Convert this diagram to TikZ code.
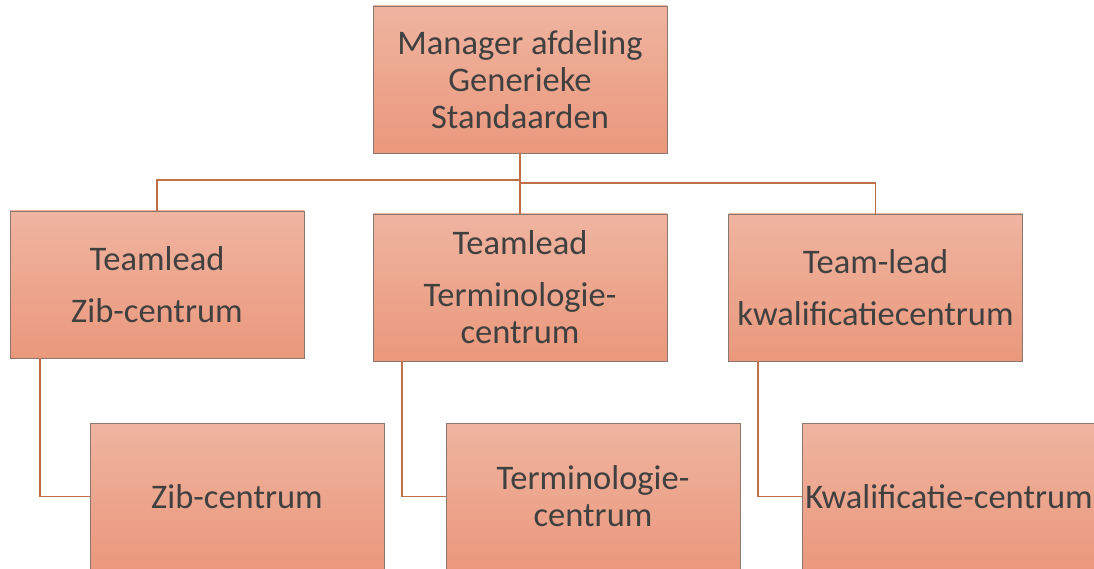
\documentclass[tikz,border=0pt]{standalone}
\usepackage{fontspec}
\setmainfont{Carlito}
\usepackage{xcolor}
\definecolor{boxtop}{RGB}{239, 180, 160}
\definecolor{boxbot}{RGB}{234, 152, 124}
\definecolor{boxline}{RGB}{138, 120, 112}
\definecolor{linkc}{RGB}{192, 112, 72}
\definecolor{txt}{RGB}{64, 64, 64}
\tikzset{
  unit/.style={draw=boxline,top color=boxtop,bottom color=boxbot,minimum width=294pt,minimum height=147pt,
    inner sep=0pt,align=center,text=txt,font=\fontsize{34.5}{37}\selectfont},
  link/.style={draw=linkc,line width=1.3pt},
}

\begin{document}
\begin{tikzpicture}[x=1pt,y=1pt]
\useasboundingbox (0,0) rectangle (1094,-569);
\clip (0,0) rectangle (1094,-569);
\node[unit] (mgr) at (520,-79.5) {Manager afdeling\\Generieke\\Standaarden};
\node[unit] (tl1) at (157,-284.5) {Teamlead\\[15pt]Zib-centrum};
\node[unit] (tl2) at (520,-287.5) {Teamlead\\[15pt]Terminologie-\\centrum};
\node[unit] (tl3) at (875.5,-287.5) {Team-lead\\[15pt]kwalificatiecentrum};
\node[unit] (sub1) at (237,-496.5) {Zib-centrum};
\node[unit] (sub2) at (593,-496.5) {Terminologie-\\centrum};
\node[unit] (sub3) at (949,-496.5) {Kwalificatie-centrum};
\coordinate (jl) at (520,-180);
\coordinate (jr) at (520,-183);
\coordinate (d1) at (40,-358);
\coordinate (d2) at (402,-361);
\coordinate (d3) at (758,-361);
\draw[link] (mgr.south) -- (jl) -| (tl1.north);
\draw[link] (jl) -- (tl2.north);
\draw[link] (jr) -| (tl3.north);
\draw[link] (d1) |- (sub1.west);
\draw[link] (d2) |- (sub2.west);
\draw[link] (d3) |- (sub3.west);
\end{tikzpicture}
\end{document}
